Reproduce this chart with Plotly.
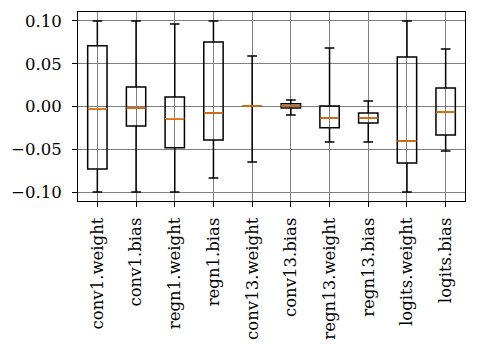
import plotly.graph_objects as go

categories = ["conv1.weight", "conv1.bias", "regn1.weight", "regn1.bias", "conv13.weight",
              "conv13.bias", "regn13.weight", "regn13.bias", "logits.weight", "logits.bias"]
lower_whisker = [-0.100, -0.100, -0.100, -0.0836, -0.0649, -0.0099, -0.0415, -0.0415, -0.100, -0.052]
q1_values     = [-0.0731, -0.0228, -0.0482, -0.0392, 0.0005, -0.0018, -0.0248, -0.0193, -0.066, -0.0333]
median_values = [-0.0026, -0.0018, -0.0143, -0.0076, 0.0005, 0.0006, -0.0135, -0.0135, -0.0404, -0.0064]
q3_values     = [0.0711, 0.0228, 0.0111, 0.0754, 0.0005, 0.0033, 0.0006, -0.0076, 0.0579, 0.0216]
upper_whisker = [0.100, 0.100, 0.0965, 0.100, 0.0591, 0.0076, 0.0684, 0.0064, 0.100, 0.0673]
y_tick_values = [-0.10, -0.05, 0.00, 0.05, 0.10]
y_tick_labels = ["\u22120.10", "\u22120.05", "0.00", "0.05", "0.10"]

positions = list(range(1, len(categories) + 1))
font = dict(family="DejaVu Serif", size=16.5, color="black")

fig = go.Figure()
fig.add_trace(go.Box(
    x=positions, q1=q1_values, median=median_values, q3=q3_values,
    lowerfence=lower_whisker, upperfence=upper_whisker,
    width=0.5, whiskerwidth=0.5,
    line=dict(color="black", width=1.5), fillcolor="rgba(0,0,0,0)",
    boxpoints=False, hoverinfo="skip", showlegend=False,
))
fig.add_trace(go.Box(
    x=positions, q1=median_values, median=median_values, q3=median_values,
    lowerfence=median_values, upperfence=median_values,
    width=0.5, whiskerwidth=0,
    line=dict(color="#ff7f0e", width=1.5), fillcolor="rgba(0,0,0,0)",
    boxpoints=False, hoverinfo="skip", showlegend=False,
))

fig.update_layout(
    width=477, height=354, autosize=False,
    margin=dict(l=78, r=12, t=12, b=153, pad=0),
    paper_bgcolor="white", plot_bgcolor="white",
    boxmode="overlay", font=font, showlegend=False,
)
fig.update_xaxes(
    range=[0.5, len(categories) + 0.5], automargin=False,
    tickvals=positions, ticktext=categories, tickangle=-90,
    showgrid=True, gridcolor="#808080", gridwidth=1,
    showline=True, linecolor="black", linewidth=1, mirror=True,
    ticks="outside", ticklen=5, tickcolor="black", tickfont=font, zeroline=False,
    ticklabelstandoff=4,
)
fig.update_yaxes(
    range=[-0.1105, 0.1105], automargin=False,
    tickvals=y_tick_values, ticktext=y_tick_labels,
    showgrid=True, gridcolor="#808080", gridwidth=1,
    showline=True, linecolor="black", linewidth=1, mirror=True,
    ticks="outside", ticklen=5, tickcolor="black", tickfont=font, zeroline=False,
    ticklabelstandoff=7,
)
fig.write_html("out.html", config={"displayModeBar": False},
               post_script="document.body.style.margin='0';")
